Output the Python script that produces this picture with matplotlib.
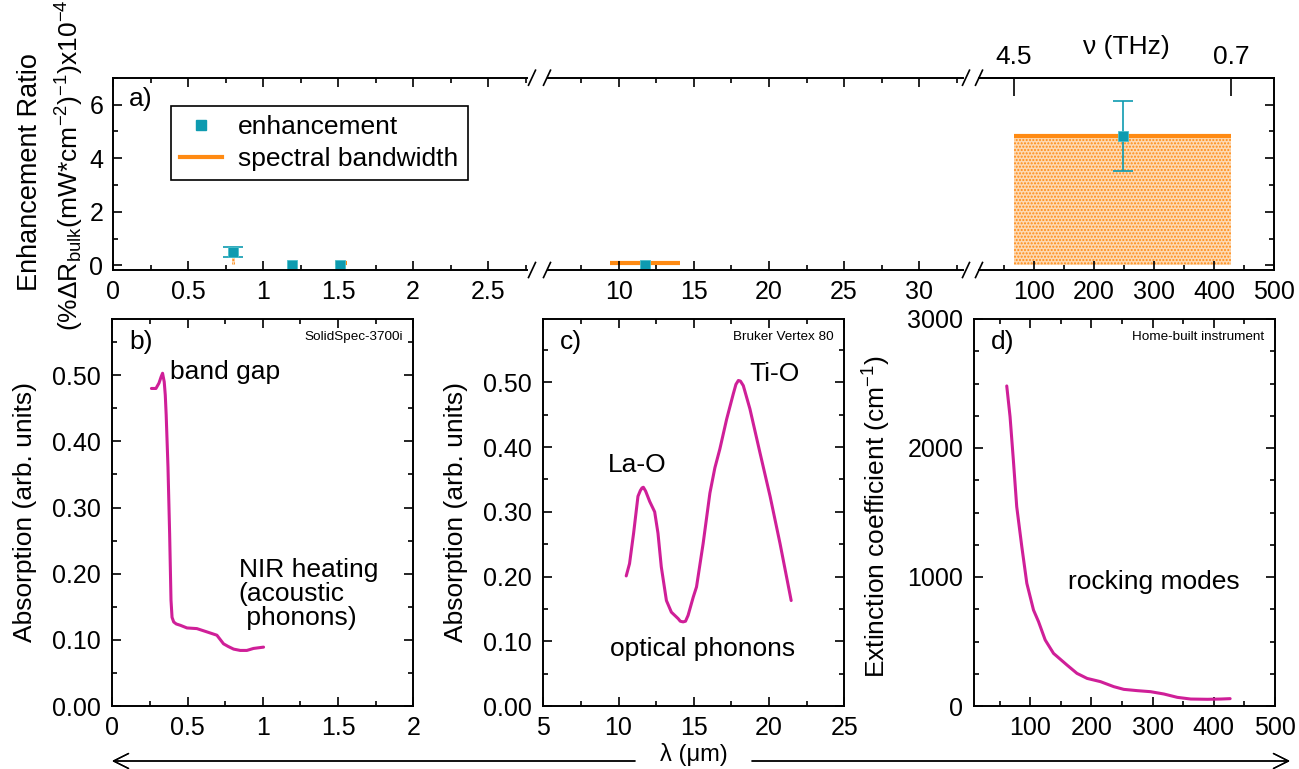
import numpy as np
import matplotlib.pyplot as plt
from matplotlib.lines import Line2D
from matplotlib.ticker import MultipleLocator, FixedLocator, NullLocator, FormatStrFormatter

plt.rcParams['font.family'] = ['Liberation Sans', 'DejaVu Sans']
plt.rcParams['mathtext.fontset'] = 'custom'
plt.rcParams['mathtext.rm'] = 'Liberation Sans'
plt.rcParams['mathtext.it'] = 'Liberation Sans:italic'
plt.rcParams['mathtext.bf'] = 'Liberation Sans:bold'
plt.rcParams['hatch.linewidth'] = 1.0

W, H = 1299, 769
TEAL = '#0e9bb0'
ORANGE = '#ff8a12'
ORANGE_FILL = '#fdd9b3'
MAGENTA = '#cf1f98'

# ---- panel a: enhancement ratio vs wavelength (um) ----
enh_x = [0.80, 1.19, 1.515, 11.76, 248.0]
enh_y = [0.50, 0.0, 0.0, 0.0, 4.82]
enh_err = [0.17, 0.0, 0.0, 0.0, 1.30]
band_lo = [0.79, 1.48, 9.4, 66.6]
band_hi = [0.81, 1.56, 14.1, 428.3]
band_top = [0.50, 0.10, 0.10, 4.82]
thz_ticks = [4.5, 0.7]

# ---- panel b: UV-vis-NIR absorption ----
b_x = [0.26, 0.29, 0.31, 0.325, 0.334, 0.345, 0.352, 0.358, 0.370, 0.381, 0.390, 0.397,
       0.408, 0.425, 0.452, 0.496, 0.562, 0.629, 0.695, 0.739, 0.77, 0.806, 0.85,
       0.894, 0.938, 1.005]
b_y = [0.480, 0.480, 0.488, 0.498, 0.503, 0.490, 0.470, 0.440, 0.361, 0.260, 0.160, 0.134,
       0.127, 0.124, 0.122, 0.118, 0.117, 0.112, 0.107, 0.094, 0.090, 0.086, 0.084,
       0.084, 0.087, 0.089]

# ---- panel c: FTIR absorption ----
c_x = [10.51, 10.73, 11.0, 11.29, 11.45, 11.56, 11.65, 11.8, 12.07, 12.4, 12.62, 12.84,
       13.18, 13.51, 13.96, 14.1, 14.29, 14.45, 14.62, 14.96, 15.18, 15.62, 16.07, 16.4,
       16.73, 17.18, 17.62, 17.8, 17.96, 18.1, 18.29, 18.73, 19.4, 20.07, 20.73, 21.47]
c_y = [0.201, 0.220, 0.267, 0.324, 0.333, 0.337, 0.338, 0.332, 0.316, 0.300, 0.267, 0.215,
       0.163, 0.145, 0.135, 0.131, 0.130, 0.131, 0.140, 0.168, 0.184, 0.251, 0.329, 0.368,
       0.397, 0.443, 0.482, 0.497, 0.503, 0.502, 0.495, 0.459, 0.391, 0.324, 0.251, 0.163]

# ---- panel d: THz extinction coefficient ----
d_x = [61.8, 67.2, 72.6, 78.1, 86.4, 94.6, 105.5, 113.7, 124.6, 138.2, 160.1, 176.5,
       193.0, 214.8, 236.6, 253.0, 275.0, 296.7, 318.5, 340.5, 362.3, 389.7, 411.5, 426.7]
d_y = [2481, 2243, 1907, 1545, 1235, 951, 744, 654, 512, 408, 318, 253,
       214, 189, 150, 129, 119, 111, 93, 67, 54, 52, 54, 57]

fig = plt.figure(figsize=(W / 100, H / 100), dpi=100)


def px_axes(x0, y0, x1, y1):
    return fig.add_axes([x0 / W, 1 - y1 / H, (x1 - x0) / W, (y1 - y0) / H])


TICK = dict(direction='in', labelsize=18, width=1.2)

# ================= top panel (broken x axis) =================
axL = px_axes(113, 77.7, 527, 270)
axM = px_axes(548, 77.7, 963, 270)
axR = px_axes(979, 77.7, 1274.3, 270)
# each segment only shows the data that belongs to it
seg_span = [(0, 3), (5, 33), (33, 600)]

for ax, (lo_s, hi_s) in zip([axL, axM, axR], seg_span):
    idx = [i for i, (lo, hi) in enumerate(zip(band_lo, band_hi)) if lo_s <= lo < hi_s]
    ax.bar([(band_lo[i] + band_hi[i]) / 2 for i in idx], [band_top[i] for i in idx],
           width=[band_hi[i] - band_lo[i] for i in idx],
           facecolor=ORANGE_FILL, edgecolor=ORANGE, lw=0, hatch='.....', zorder=1)
    wide = [i for i in idx if band_hi[i] - band_lo[i] > 0.05]
    ax.hlines([band_top[i] for i in wide], [band_lo[i] for i in wide],
              [band_hi[i] for i in wide], color=ORANGE, lw=3, zorder=1.5)
    pts = [i for i, x in enumerate(enh_x) if lo_s <= x < hi_s]
    err = [i for i in pts if enh_err[i] > 0]
    if err:
        ax.errorbar([enh_x[i] for i in err], [enh_y[i] for i in err],
                    yerr=[enh_err[i] for i in err], fmt='none', ecolor=TEAL,
                    elinewidth=1.2, capsize=7, capthick=1.2, zorder=2)
    ax.plot([enh_x[i] for i in pts], [enh_y[i] for i in pts], 's', color=TEAL,
            ms=7, mec='#4cc0cc', mew=0.6, zorder=2)
    ax.set_ylim(-0.17, 7)
    for s in ax.spines.values():
        s.set_linewidth(1.4)
    ax.tick_params(which='major', length=6.5, **TICK)
    ax.tick_params(which='minor', length=3.5, direction='in', width=1.2)
    ax.xaxis.set_major_formatter(FormatStrFormatter('%g'))

axL.set_xlim(0, 2.76)
axL.xaxis.set_major_locator(MultipleLocator(0.5))
axL.xaxis.set_minor_locator(MultipleLocator(0.25))
axL.yaxis.set_major_locator(MultipleLocator(2))
axL.yaxis.set_minor_locator(MultipleLocator(1))
axL.spines['right'].set_visible(False)
axL.tick_params(which='both', top=True, bottom=True, left=True, right=False, pad=7)

axM.set_xlim(5.27, 32.93)
axM.xaxis.set_major_locator(MultipleLocator(5))
axM.xaxis.set_minor_locator(MultipleLocator(2.5))
axM.spines['left'].set_visible(False)
axM.spines['right'].set_visible(False)
axM.tick_params(which='both', top=True, bottom=True, left=False, right=False,
                labelleft=False, pad=7)

axR.set_xlim(8.3, 500)
axR.xaxis.set_major_locator(MultipleLocator(100))
axR.xaxis.set_minor_locator(MultipleLocator(50))
axR.yaxis.set_major_locator(MultipleLocator(2))
axR.yaxis.set_minor_locator(MultipleLocator(1))
axR.spines['left'].set_visible(False)
axR.tick_params(which='both', top=False, bottom=True, left=False, right=True,
                labelleft=False, pad=7)

sec = axR.secondary_xaxis('top', functions=(lambda x: 299.79 / x, lambda x: 299.79 / x))
sec.xaxis.set_major_locator(FixedLocator(thz_ticks))
sec.xaxis.set_minor_locator(NullLocator())
sec.xaxis.set_major_formatter(FormatStrFormatter('%g'))
sec.tick_params(direction='in', length=13, width=1.2, labelsize=19, pad=6)
sec.spines['top'].set_linewidth(1.4)
fig.text(1126 / W, 1 - 47 / H, 'ν (THz)', fontsize=19, ha='center', va='center')

# break marks
for xb in [532, 547, 966, 979]:
    for yb in [77.7, 270]:
        fig.add_artist(Line2D([(xb - 3.5) / W, (xb + 3.5) / W],
                              [1 - (yb + 7.5) / H, 1 - (yb - 7.5) / H],
                              transform=fig.transFigure, color='black', lw=1.2))

axL.text(0.038, 0.889, 'a)', transform=axL.transAxes, fontsize=19, ha='left', va='center')

handles = [Line2D([], [], marker='s', ls='none', color=TEAL, ms=7),
           Line2D([], [], color=ORANGE, lw=3)]
leg = axL.legend(handles, ['enhancement', 'spectral bandwidth'], loc='upper left',
                 bbox_to_anchor=(171 / W, 1 - 106 / H), bbox_transform=fig.transFigure,
                 fontsize=19, frameon=True, fancybox=False, borderpad=0.35,
                 labelspacing=0.3, handlelength=1.6, handletextpad=0.6,
                 borderaxespad=0, framealpha=1)
leg.get_frame().set_edgecolor('black')
leg.get_frame().set_linewidth(1.2)

fig.text(30 / W, 1 - 172 / H, 'Enhancement Ratio', rotation=90, fontsize=19.5,
         ha='center', va='center')
fig.text(70 / W, 1 - 165 / H,
         r'(%ΔR$_{\mathrm{bulk}}$(mW*cm$^{-2}$)$^{-1}$)x10$^{-4}$',
         rotation=90, fontsize=19, ha='center', va='center')

# ================= bottom panels =================
axb = px_axes(112.3, 319, 413.3, 706)
axc = px_axes(543.3, 319, 844.3, 706)
axd = px_axes(974.3, 319, 1275, 706)

for ax in [axb, axc, axd]:
    for s in ax.spines.values():
        s.set_linewidth(1.4)
    ax.tick_params(which='both', top=True, right=True, **TICK)
    ax.tick_params(which='major', length=6.5)
    ax.tick_params(which='minor', length=3.5)
    ax.tick_params(axis='x', pad=7)
    ax.tick_params(axis='y', pad=8)
    ax.xaxis.set_major_formatter(FormatStrFormatter('%g'))

line_kw = dict(color=MAGENTA, lw=2.2, solid_joinstyle='round', solid_capstyle='round')

axb.plot(b_x, b_y, **line_kw)
axb.set_xlim(0, 2)
axb.set_ylim(0, 0.585)
axb.xaxis.set_major_locator(MultipleLocator(0.5))
axb.xaxis.set_minor_locator(MultipleLocator(0.25))
axb.yaxis.set_major_locator(MultipleLocator(0.1))
axb.yaxis.set_minor_locator(MultipleLocator(0.05))
axb.yaxis.set_major_formatter(FormatStrFormatter('%.2f'))
axb.set_ylabel('Absorption (arb. units)', fontsize=19)
axb.yaxis.set_label_coords(-0.25, 0.5)
axb.text(0.385, 0.505, 'band gap', fontsize=19, ha='left', va='center')
axb.text(0.84, 0.223, 'NIR heating\n(acoustic\n phonons)', fontsize=19,
         ha='left', va='top', linespacing=1.0)

axc.plot(c_x, c_y, **line_kw)
axc.set_xlim(5, 25)
axc.set_ylim(0, 0.598)
axc.xaxis.set_major_locator(MultipleLocator(5))
axc.xaxis.set_minor_locator(MultipleLocator(2.5))
axc.yaxis.set_major_locator(MultipleLocator(0.1))
axc.yaxis.set_minor_locator(MultipleLocator(0.05))
axc.yaxis.set_major_formatter(FormatStrFormatter('%.2f'))
axc.set_ylabel('Absorption (arb. units)', fontsize=19)
axc.yaxis.set_label_coords(-0.25, 0.5)
axc.text(18.7, 0.513, 'Ti-O', fontsize=19, ha='left', va='center')
axc.text(9.3, 0.372, 'La-O', fontsize=19, ha='left', va='center')
axc.text(9.4, 0.088, 'optical phonons', fontsize=19, ha='left', va='center')

axd.plot(d_x, d_y, **line_kw)
axd.set_xlim(8.8, 500)
axd.set_ylim(0, 3000)
axd.xaxis.set_major_locator(MultipleLocator(100))
axd.xaxis.set_minor_locator(MultipleLocator(50))
axd.yaxis.set_major_locator(MultipleLocator(1000))
axd.yaxis.set_minor_locator(MultipleLocator(250))
axd.set_ylabel('Extinction coefficient (cm$^{-1}$)', fontsize=19)
axd.yaxis.set_label_coords(-0.27, 0.49)
axd.text(162, 963, 'rocking modes', fontsize=19, ha='left', va='center')

for ax, lab, inst in [(axb, 'b)', 'SolidSpec-3700i'), (axc, 'c)', 'Bruker Vertex 80'),
                      (axd, 'd)', 'Home-built instrument')]:
    ax.text(0.055, 0.94, lab, transform=ax.transAxes, fontsize=19, ha='left', va='center')
    ax.text(0.965, 0.953, inst, transform=ax.transAxes, fontsize=9.7, ha='right', va='center')

# wavelength arrow
ya = 1 - 761 / H
arrow = dict(arrowstyle='->,head_length=0.6,head_width=0.3', lw=1, color='black',
             shrinkA=0, shrinkB=0, mutation_scale=18)
fig.add_artist(plt.annotate('', xy=(112 / W, ya), xytext=(635 / W, ya),
                            xycoords='figure fraction', textcoords='figure fraction',
                            arrowprops=arrow))
fig.add_artist(plt.annotate('', xy=(1290 / W, ya), xytext=(752 / W, ya),
                            xycoords='figure fraction', textcoords='figure fraction',
                            arrowprops=arrow))
fig.text(694 / W, 1 - 755 / H, 'λ (μm)', fontsize=17, ha='center', va='center')

fig.savefig('out.png', dpi=100)
